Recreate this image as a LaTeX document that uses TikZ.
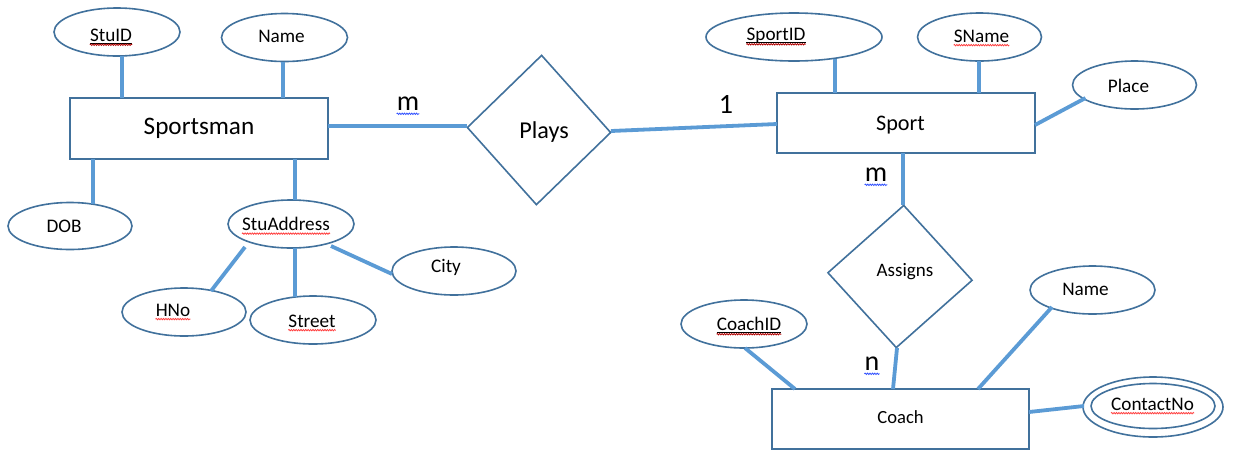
\documentclass[tikz,border=0pt]{standalone}
\usepackage{fontspec}
\setmainfont{Carlito}
\usetikzlibrary{shapes.geometric,decorations.pathmorphing,calc}
\definecolor{edgeblue}{HTML}{41719C}
\definecolor{connblue}{HTML}{5B9BD5}
\definecolor{keyred}{HTML}{B00000}
\definecolor{spellred}{HTML}{FF4040}
\definecolor{gramblue}{HTML}{3050FF}
\begin{document}
\begin{tikzpicture}[x=1pt,y=-1pt,
  attr/.style={draw=edgeblue,line width=1.6pt,ellipse,fill=white,inner sep=0pt,minimum width=126pt,minimum height=48pt},
  entity/.style={draw=edgeblue,line width=1.6pt,rectangle,fill=white,inner sep=0pt},
  rel/.style={draw=edgeblue,line width=1.6pt,diamond,fill=white,inner sep=0pt},
  lbl/.style={inner sep=0pt,font=\fontsize{19.2}{21}\selectfont},
  card/.style={inner sep=0pt,font=\fontsize{28}{30}\selectfont},
  conn/.style={draw=connblue,line width=3.8pt},
  keyline/.style={draw=black,line width=0.9pt},
  squig/.style={decorate,decoration={snake,amplitude=0.7pt,segment length=2.4pt},line width=0.8pt},
]
\useasboundingbox (0,0) rectangle (1233,451);

% entities
\node[entity,minimum width=258pt,minimum height=61pt] (sportsman) at (199,128.5) {};
\node[entity,minimum width=258pt,minimum height=60pt] (sport) at (906,123) {};
\node[entity,minimum width=257pt,minimum height=60pt] (coach) at (900.5,419) {};

% relationships
\node[rel,minimum width=144pt,minimum height=150pt,rotate=-2] (plays) at (539,130) {};
\node[rel,minimum width=145pt,minimum height=143pt,rotate=-3] (assigns) at (900,276.5) {};

% attributes
\node[attr] (stuid) at (117,32) {};
\node[attr] (sname1) at (284.5,37.5) {};
\node[attr,minimum width=124pt,minimum height=47pt] (dob) at (70,226) {};
\node[attr] (stuaddr) at (291,224) {};
\node[attr,minimum width=124pt] (hno) at (184,312) {};
\node[attr] (street) at (313,320) {};
\node[attr,minimum width=124pt] (city) at (454,271) {};
\node[attr,minimum width=176pt] (sportid) at (794,37) {};
\node[attr,minimum width=124pt] (sname) at (979.5,37) {};
\node[attr,minimum width=124pt] (place) at (1134.5,85) {};
\node[attr] (coachid) at (744,324) {};
\node[attr,minimum width=125pt] (cname) at (1092.5,290) {};
\node[attr,minimum width=140pt,minimum height=60pt] (contact) at (1153,407) {};
\node[draw=edgeblue,line width=1.6pt,ellipse,inner sep=0pt,minimum width=124pt,minimum height=45pt] (contactin) at (1153,406) {};

% labels
\node[inner sep=0pt,font=\fontsize{25.2}{27}\selectfont] (t-sportsman) at (sportsman) {Sportsman};
\node[inner sep=0pt,font=\fontsize{22.2}{24}\selectfont] (t-sport) at ($(sport)+(-5.5,2)$) {Sport};
\node[inner sep=0pt,font=\fontsize{18.6}{20}\selectfont] (t-coach) at ($(coach)+(0,-2)$) {Coach};
\node[inner sep=0pt,font=\fontsize{24.2}{26}\selectfont] (t-plays) at ($(plays)+(5,2)$) {Plays};
\node[inner sep=0pt,font=\fontsize{19}{21}\selectfont] (t-assigns) at ($(assigns)+(5,-4.5)$) {Assigns};

\node[lbl] (t-stuid) at ($(stuid)+(-6,3)$) {StuID};
\node[lbl] (t-name1) at ($(sname1)+(-3,-1)$) {Name};
\node[lbl] (t-dob) at ($(dob)+(-6,0)$) {DOB};
\node[lbl] (t-stuaddr) at ($(stuaddr)+(-5,0)$) {StuAddress};
\node[lbl] (t-hno) at ($(hno)+(-11,-2)$) {HNo};
\node[lbl] (t-street) at ($(street)+(-1,1)$) {Street};
\node[lbl] (t-city) at ($(city)+(-8,-4)$) {City};
\node[lbl] (t-sportid) at ($(sportid)+(-18,-1)$) {SportID};
\node[lbl] (t-sname) at ($(sname)+(2,-1)$) {SName};
\node[lbl] (t-place) at ($(place)+(-6,1)$) {Place};
\node[lbl] (t-coachid) at ($(coachid)+(5,0)$) {CoachID};
\node[lbl] (t-cname) at ($(cname)+(-7,-1)$) {Name};
\node[lbl] (t-contact) at ($(contact)+(-0.5,-3)$) {ContactNo};

\node[card] (c-m1) at (408,104) {m};
\node[card] (c-one) at (726,104) {1};
\node[card] (c-m2) at (876,175) {m};
\node[card] (c-n) at (872,364) {n};

% key underlines
\foreach \t in {t-stuid,t-sportid,t-coachid}{
  \draw[keyline] ([yshift=-1.8pt]\t.base west) -- ([yshift=-1.8pt]\t.base east);
  \draw[squig,draw=keyred] ([yshift=-3.6pt]\t.base west) -- ([yshift=-3.6pt]\t.base east);
}
% spelling marks
\foreach \t in {t-stuaddr,t-hno,t-street,t-sname,t-contact}{
  \draw[squig,draw=spellred] ([yshift=-3pt]\t.base west) -- ([yshift=-3pt]\t.base east);
}
\foreach \t in {c-m1,c-m2,c-n}{
  \draw[squig,draw=gramblue] ([yshift=-3pt]\t.base west) -- ([yshift=-3pt]\t.base east);
}

% connectors
\draw[conn] ($(stuid)+(5,24)$) -- ($(sportsman)+(-77,-30.5)$);
\draw[conn] ($(sname1)+(-1.5,24)$) -- ($(sportsman)+(84,-30.5)$);
\draw[conn] ($(dob)+(23,-22)$) -- ($(sportsman)+(-106,30.5)$);
\draw[conn] ($(stuaddr)+(4,-24)$) -- ($(sportsman)+(96,30.5)$);
\draw[conn] ($(sportsman)+(129,-2.5)$) -- ($(plays)+(-72,-4)$);
\draw[conn] ($(plays)+(72,1)$) -- ($(sport)+(-129,1)$);
\draw[conn] ($(sportid)+(41,22)$) -- ($(sport)+(-71,-30)$);
\draw[conn] ($(sname)+(-0.5,24)$) -- ($(sport)+(73,-30)$);
\draw[conn] ($(place)+(-49,13)$) -- ($(sport)+(129,2)$);
\draw[conn] ($(sport)+(-3,30)$) -- ($(assigns)+(3,-71.5)$);
\draw[conn] ($(assigns)+(-3,71.5)$) -- ($(coach)+(-7.5,-30)$);
\draw[conn] ($(coachid)+(1,24)$) -- ($(coach)+(-105.5,-30)$);
\draw[conn] ($(cname)+(-40.5,17)$) -- ($(coach)+(77.5,-30)$);
\draw[conn] ($(contact)+(-69,-1)$) -- ($(coach)+(128.5,-7)$);
\draw[conn] ($(stuaddr)+(-46,23)$) -- ($(hno)+(27,-21)$);
\draw[conn] ($(stuaddr)+(4,24)$) -- ($(street)+(-18,-23)$);
\draw[conn] ($(stuaddr)+(40,22)$) -- ($(city)+(-62,3)$);
\end{tikzpicture}
\end{document}
